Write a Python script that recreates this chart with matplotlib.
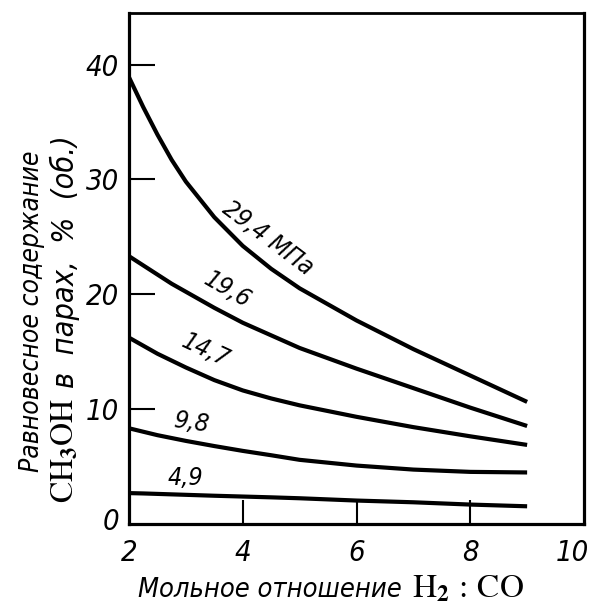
import matplotlib
matplotlib.use("Agg")
import matplotlib.pyplot as plt
from matplotlib import font_manager as fm
from matplotlib.transforms import ScaledTranslation

plt.rcParams['mathtext.fontset'] = 'stix'

# pick a narrow italic sans font if one is installed
cand = []
for f in fm.fontManager.ttflist:
    fn = f.fname.lower()
    if ('condensed' in fn or 'narrow' in fn) and ('oblique' in fn or 'italic' in fn) and 'bold' not in fn:
        cand.append(f.fname)
cand.sort(key=lambda s: (0 if 'dejavu' in s.lower() else 1))
if cand:
    def FP(size):
        return fm.FontProperties(fname=cand[0], size=size)
else:
    def FP(size):
        return fm.FontProperties(family='DejaVu Sans', style='italic', size=size)

# data
x_vals = [2, 2.25, 2.5, 2.75, 3, 3.5, 4, 4.5, 5, 6, 7, 8, 9]
y_294 = [38.9, 36.3, 33.9, 31.7, 29.8, 26.7, 24.2, 22.2, 20.5, 17.7, 15.2, 12.9, 10.6]
y_196 = [23.3, 22.5, 21.7, 20.9, 20.2, 18.8, 17.5, 16.4, 15.3, 13.5, 11.8, 10.1, 8.5]
y_147 = [16.2, 15.5, 14.8, 14.2, 13.6, 12.5, 11.6, 10.9, 10.3, 9.3, 8.4, 7.6, 6.85]
y_98 = [8.3, 8.0, 7.7, 7.45, 7.2, 6.75, 6.33, 5.95, 5.55, 5.05, 4.7, 4.5, 4.45]
y_49 = [2.65, 2.62, 2.58, 2.54, 2.5, 2.42, 2.35, 2.28, 2.2, 2.0, 1.85, 1.65, 1.5]
series = [y_294, y_196, y_147, y_98, y_49]
curve_labels = ['29,4 МПа', '19,6', '14,7', '9,8', '4,9']
label_pos = [(4.44, 24.9), (3.74, 20.4), (3.35, 15.1), (3.09, 8.8), (3.0, 4.0)]
label_rot = [-37, -30, -25, -8, 0]
x_ticks = [2, 4, 6, 8, 10]
y_ticks = [0, 10, 20, 30, 40]

fig = plt.figure(figsize=(5.9, 6.06), dpi=100)
ax = fig.add_axes([129/590, 1-523.5/606, (584-129)/590, (523.5-13)/606])

for ys in series:
    ax.plot(x_vals, ys, color='black', lw=3.0, solid_capstyle='butt')

for lab, (lx, ly), rot in zip(curve_labels, label_pos, label_rot):
    ax.text(lx, ly, lab, rotation=rot, ha='center', va='center',
            fontproperties=FP(18), rotation_mode='anchor')

ax.set_xlim(2, 10)
ax.set_ylim(0, 44.5)
ax.set_xticks(x_ticks)
ax.set_yticks(y_ticks)
ax.set_xticklabels([str(v) for v in x_ticks], fontproperties=FP(21))
ax.set_yticklabels([str(v) for v in y_ticks], fontproperties=FP(21))
ax.tick_params(axis='x', direction='in', length=17, width=1.5, pad=11)
ax.tick_params(axis='y', direction='in', length=19, width=1.5, pad=7)
for t in ax.xaxis.get_major_ticks():
    if t.get_loc() in (2, 10):
        t.tick1line.set_visible(False)
for t in ax.yaxis.get_major_ticks():
    if t.get_loc() == 0:
        t.tick1line.set_visible(False)
xl = ax.get_xticklabels()
xl[-1].set_transform(xl[-1].get_transform() + ScaledTranslation(-12/100, 0, fig.dpi_scale_trans))
yl = ax.get_yticklabels()
yl[0].set_transform(yl[0].get_transform() + ScaledTranslation(0, 5/100, fig.dpi_scale_trans))
for sp in ax.spines.values():
    sp.set_linewidth(2.3)
ax.spines['top'].set_linewidth(2.0)

# x axis label
t1 = fig.text(138/590, 9/606, 'Мольное отношение ', ha='left', va='baseline',
              fontproperties=FP(19.5))
fig.canvas.draw()
r = fig.canvas.get_renderer()
bb = t1.get_window_extent(r)
fig.text((bb.x1 + 2)/590, 9/606, '$\\mathrm{H}_{\\mathbf{2}}\\mathrm{\\,:\\,CO}$', ha='left', va='baseline',
         fontsize=24)

# y axis label
fig.text(32/590, 0.487, 'Равновесное содержание', rotation=90, ha='center', va='center',
         fontproperties=FP(19))
t2 = fig.text(74/590, 103/606, '$\\mathrm{CH}_{\\mathbf{3}}\\mathrm{OH}$', rotation=90,
              rotation_mode='anchor', ha='left', va='baseline', fontsize=23)
fig.canvas.draw()
bb2 = t2.get_window_extent(r)
fig.text(74/590, (bb2.y1 + 10)/606, 'в  парах,  %  (об.)', rotation=90,
         rotation_mode='anchor', ha='left', va='baseline', fontproperties=FP(22))

fig.savefig('out.png', dpi=100)
